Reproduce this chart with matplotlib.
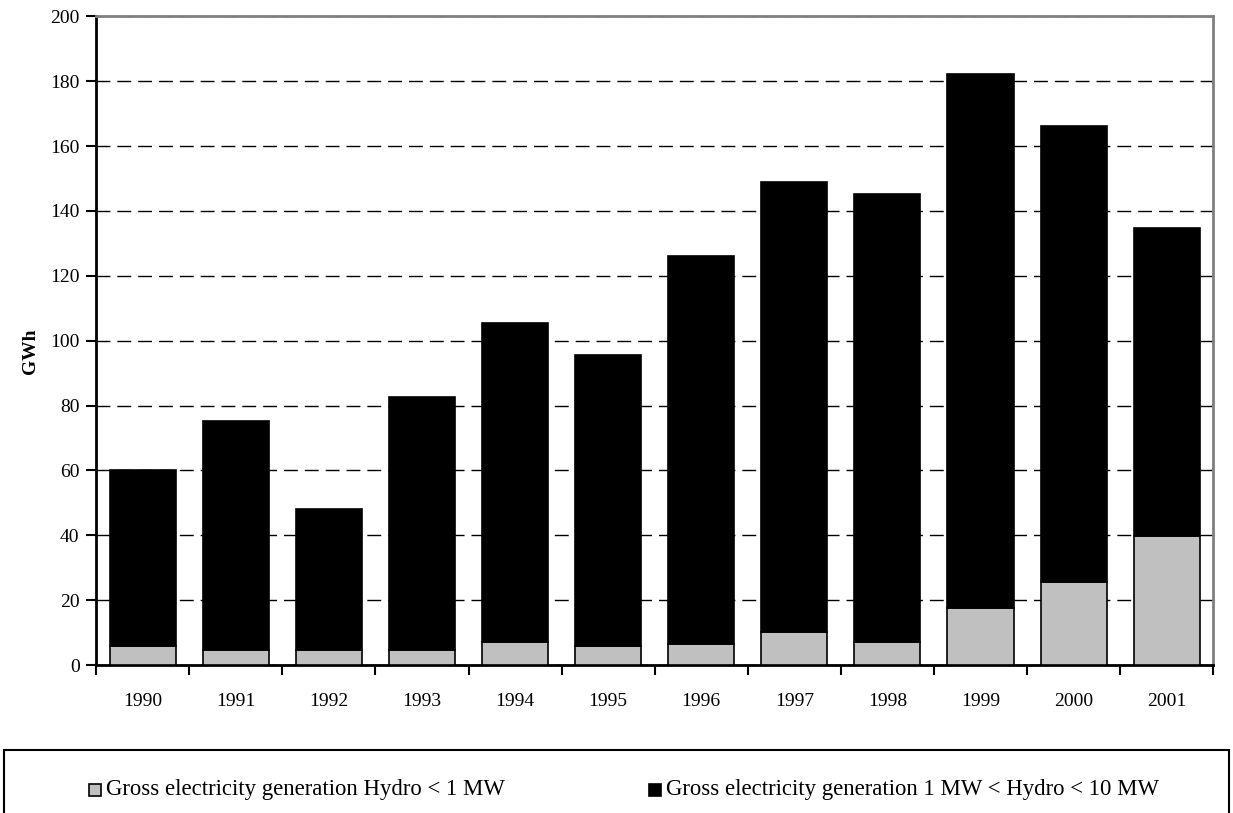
import numpy as np
import matplotlib.pyplot as plt
from matplotlib.patches import Rectangle

plt.rcParams['font.family'] = ['Liberation Serif', 'DejaVu Serif']

# Gross electricity generation, small hydro (GWh)
years = ['1990', '1991', '1992', '1993', '1994', '1995',
         '1996', '1997', '1998', '1999', '2000', '2001']
hydro_below_1mw = [5.9, 4.6, 4.6, 4.6, 7.1, 5.9, 6.5, 10.2, 7.1, 17.6, 25.6, 39.8]
hydro_total = [60.1, 75.2, 48.2, 82.6, 105.4, 95.7, 126.2, 148.8, 145.2, 182.1, 166.1, 134.8]
hydro_1_10mw = [t - s for t, s in zip(hydro_total, hydro_below_1mw)]

fig = plt.figure(figsize=(12.33, 8.13), dpi=100)
ax = fig.add_axes([0.078, 0.182, 0.906, 0.798])

x = np.arange(len(years))
w = 0.71
ax.bar(x, hydro_below_1mw, w, color='#c0c0c0', edgecolor='black', linewidth=1.2, zorder=3)
ax.bar(x, hydro_1_10mw, w, bottom=hydro_below_1mw, color='black', edgecolor='black',
       linewidth=1.2, zorder=3)

ax.set_xlim(-0.5, len(years) - 0.5)
ax.set_ylim(0, 200)
ax.set_yticks(range(0, 201, 20))
ax.yaxis.grid(True, color='black', linestyle=(0, (10, 5)), linewidth=1, zorder=0)
ax.set_axisbelow(True)

# category ticks sit between bars, labels centred under them
ax.set_xticks(np.arange(len(years) + 1) - 0.5)
ax.set_xticklabels([])
ax.set_xticks(x, minor=True)
ax.set_xticklabels(years, minor=True)
ax.tick_params(axis='x', which='major', direction='out', length=7, width=1.5)
ax.tick_params(axis='x', which='minor', length=0, pad=20, labelsize=14)
ax.tick_params(axis='y', direction='out', length=7, width=1.5, labelsize=14, pad=5)

for side in ['left', 'bottom']:
    ax.spines[side].set_linewidth(2)
for side in ['top', 'right']:
    ax.spines[side].set_color('#808080')
    ax.spines[side].set_linewidth(2)

ax.set_ylabel('GWh', fontweight='bold', fontsize=14)
ax.yaxis.set_label_coords(-0.051, 0.484)

# legend frame along the bottom edge
fig.patches.append(Rectangle((0.003, -0.01), 0.994, 0.087, transform=fig.transFigure,
                             fill=False, edgecolor='black', linewidth=1.5))
leg_items = [('#c0c0c0', 'Gross electricity generation Hydro < 1 MW', 0.0722),
             ('black', 'Gross electricity generation 1 MW < Hydro < 10 MW', 0.5264)]
for col, txt, xpos in leg_items:
    fig.patches.append(Rectangle((xpos, 0.0209), 0.0095, 0.0145, transform=fig.transFigure,
                                 facecolor=col, edgecolor='black', linewidth=1.2))
    fig.text(xpos + 0.0135, 0.0285, txt, fontsize=16.4, va='center', ha='left')

fig.savefig('out.png', dpi=100)
